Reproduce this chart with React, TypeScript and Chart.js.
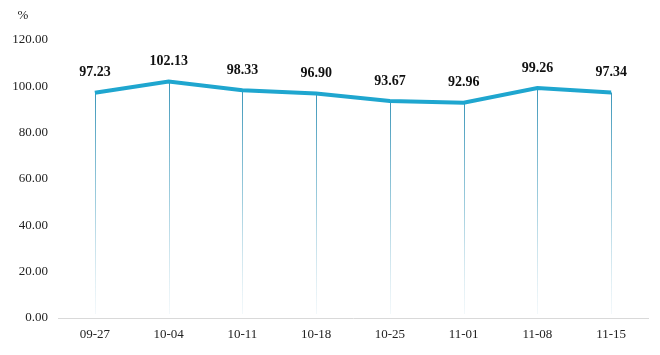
import React, { useEffect, useRef } from "react";
import { Chart, registerables } from "chart.js";

Chart.register(...registerables);

const categories = ["09-27", "10-04", "10-11", "10-18", "10-25", "11-01", "11-08", "11-15"];
const values = [97.23, 102.13, 98.33, 96.9, 93.67, 92.96, 99.26, 97.34];
const yTicks = [0, 20, 40, 60, 80, 100, 120];
const unitLabel = "%";

const SERIF = "'Liberation Serif', 'Times New Roman', serif";

const overlayPlugin = {
  id: "overlay",
  beforeDatasetsDraw(chart: any) {
    const { ctx, chartArea } = chart;
    const meta = chart.getDatasetMeta(0);
    ctx.save();
    meta.data.forEach((pt: any) => {
      const bottom = chartArea.bottom - 4;
      const g = ctx.createLinearGradient(0, pt.y, 0, bottom);
      g.addColorStop(0, "rgba(60,150,185,1)");
      g.addColorStop(0.5, "rgba(120,185,208,0.7)");
      g.addColorStop(0.8, "rgba(170,210,225,0.45)");
      g.addColorStop(1, "rgba(215,232,240,0.3)");
      ctx.strokeStyle = g;
      ctx.lineWidth = 1;
      ctx.beginPath();
      ctx.moveTo(Math.round(pt.x) + 0.5, pt.y);
      ctx.lineTo(Math.round(pt.x) + 0.5, bottom);
      ctx.stroke();
    });
    ctx.restore();
  },
  afterDatasetsDraw(chart: any) {
    const { ctx } = chart;
    const meta = chart.getDatasetMeta(0);
    ctx.save();
    ctx.fillStyle = "#111";
    ctx.font = `bold 14px ${SERIF}`;
    ctx.textAlign = "center";
    ctx.textBaseline = "middle";
    meta.data.forEach((pt: any, i: number) => {
      ctx.fillText(values[i].toFixed(2), pt.x, pt.y - 20);
    });
    ctx.font = `13px ${SERIF}`;
    ctx.fillStyle = "#222";
    ctx.fillText(unitLabel, 23, 16);
    ctx.restore();
  },
};

export default function App() {
  const ref = useRef<HTMLCanvasElement | null>(null);
  useEffect(() => {
    document.body.style.margin = "0";
    const chart = new Chart(ref.current as HTMLCanvasElement, {
      type: "line",
      data: {
        labels: categories,
        datasets: [
          {
            data: values,
            borderColor: "#1fa6cf",
            borderWidth: 4,
            pointRadius: 0,
            tension: 0,
            fill: false,
          },
        ],
      },
      options: {
        animation: false,
        responsive: false,
        maintainAspectRatio: false,
        layout: { padding: { top: 40, right: 12, left: 0, bottom: 0 } },
        plugins: { legend: { display: false }, tooltip: { enabled: false } },
        scales: {
          x: {
            offset: true,
            grid: { display: false, drawTicks: false },
            border: { display: true, color: "#d9d9d9", width: 1 },
            ticks: {
              color: "#222",
              font: { family: SERIF, size: 13 },
              padding: 9,
              maxRotation: 0,
              autoSkip: false,
            },
            afterFit(scale: any) {
              scale.height = 37;
            },
          },
          y: {
            min: 0,
            max: 120,
            afterBuildTicks(scale: any) {
              scale.ticks = yTicks.map((v) => ({ value: v }));
            },
            grid: { display: false, drawTicks: false },
            border: { display: false },
            ticks: {
              color: "#222",
              font: { family: SERIF, size: 13 },
              padding: 10,
              callback: (v: any) => Number(v).toFixed(2),
            },
            afterFit(scale: any) {
              scale.width = 58;
            },
          },
        },
      },
      plugins: [overlayPlugin],
    });
    return () => chart.destroy();
  }, []);
  return (
    <div style={{ width: 660, height: 355, background: "#fff" }}>
      <canvas ref={ref} width={660} height={355} style={{ display: "block" }} />
    </div>
  );
}
